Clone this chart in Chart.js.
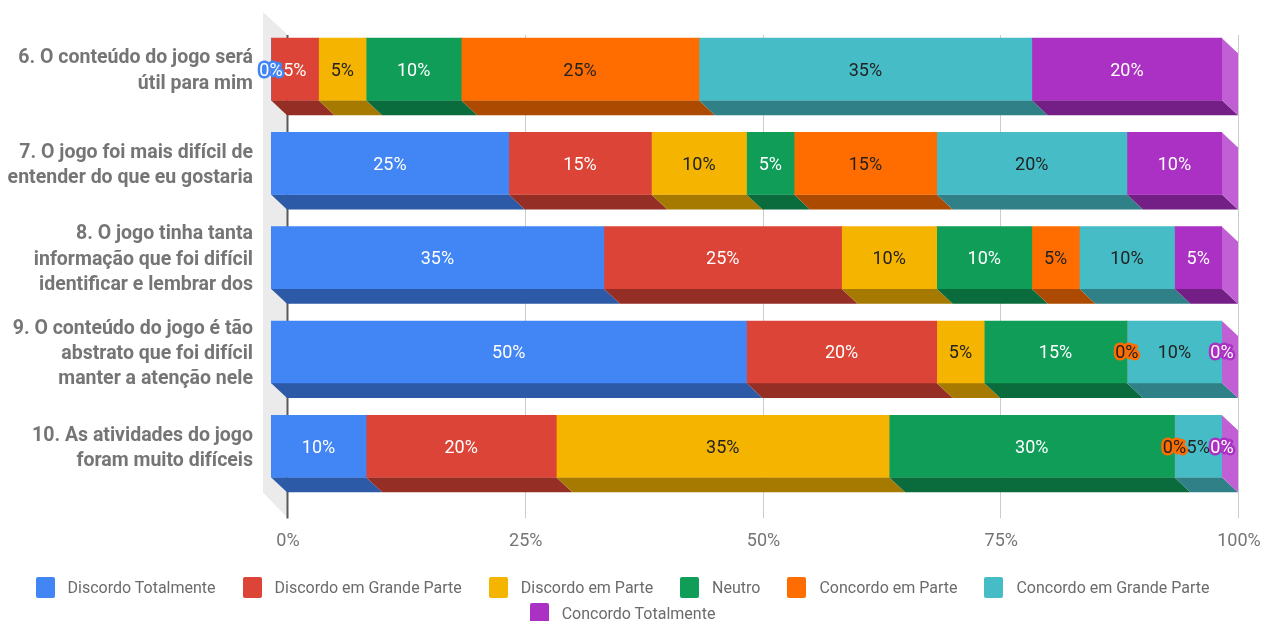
<!DOCTYPE html>
<html lang="pt">
<head>
<meta charset="utf-8">
<title>Avaliação do jogo</title>
<script src="https://cdn.jsdelivr.net/npm/chart.js@4.4.1/dist/chart.umd.min.js"></script>
<style>
  body { margin: 0; background: #fff; }
  #wrap { position: relative; width: 1262px; height: 621px; }
  #legend {
    position: absolute; left: 0; top: 577px; width: 1245px;
    display: flex; flex-wrap: wrap; justify-content: center;
    column-gap: 27px; row-gap: 5px;
    font: 16px Roboto, sans-serif; color: #6b6b6b; line-height: 21px;
  }
  #legend .key { display: inline-flex; align-items: center; white-space: nowrap; }
  #legend .key i { display: inline-block; width: 19px; height: 21px; border-radius: 2px; margin-right: 13px; }
</style>
</head>
<body>
<div id="wrap">
  <canvas id="chart" width="1262" height="621"></canvas>
  <div id="legend"></div>
</div>
<script>
// Questions (one bar each)
const questions = [
  ["6. O conteúdo do jogo será", "útil para mim"],
  ["7. O jogo foi mais difícil de", "entender do que eu gostaria"],
  ["8. O jogo tinha tanta", "informação que foi difícil", "identificar e lembrar dos"],
  ["9. O conteúdo do jogo é tão", "abstrato que foi difícil", "manter a atenção nele"],
  ["10. As atividades do jogo", "foram muito difíceis"],
];

// Answer scale
const answers = [
  "Discordo Totalmente",
  "Discordo em Grande Parte",
  "Discordo em Parte",
  "Neutro",
  "Concordo em Parte",
  "Concordo em Grande Parte",
  "Concordo Totalmente",
];

// Share of answers per question (%)
const discordoTotalmente = [0, 25, 35, 50, 10];
const discordoGrandeParte = [5, 15, 25, 20, 20];
const discordoParte = [5, 10, 10, 5, 35];
const neutro = [10, 5, 10, 15, 30];
const concordoParte = [25, 15, 5, 0, 0];
const concordoGrandeParte = [35, 20, 10, 10, 5];
const concordoTotalmente = [20, 10, 5, 0, 0];

const axisTicks = [0, 25, 50, 75, 100];

const series = [discordoTotalmente, discordoGrandeParte, discordoParte, neutro, concordoParte, concordoGrandeParte, concordoTotalmente];
const faceColors = ["#4285f4", "#db4437", "#f4b400", "#0f9d58", "#ff6d01", "#46bdc6", "#ab30c4"];
const shadeColors = ["#2d5aa6", "#952e25", "#a67a00", "#0a6b3c", "#ad4a01", "#308087", "#741f85"];
const labelInk = ["#ffffff", "#ffffff", "#222222", "#ffffff", "#222222", "#222222", "#ffffff"];
const sideColor = "#c060d4";

// extrusion offset for the fake 3d look
const DX = 16;
const DY = 15;

const depthPlugin = {
  id: "depth",
  beforeDatasetsDraw(chart) {
    const { ctx, chartArea: a } = chart;
    const xs = chart.scales.x;
    ctx.save();

    // left wall
    ctx.fillStyle = "#ebebeb";
    ctx.beginPath();
    ctx.moveTo(a.left - 8, a.top - 10);
    ctx.lineTo(a.left + DX + 1, a.top + 13);
    ctx.lineTo(a.left + DX + 1, a.bottom + 25);
    ctx.lineTo(a.left - 8, a.bottom - 1);
    ctx.closePath();
    ctx.fill();

    // back grid lines
    axisTicks.forEach((t) => {
      const x = Math.round(xs.getPixelForValue(t) + DX) + 0.5;
      ctx.strokeStyle = t === 0 ? "#5a5a5a" : "#cccccc";
      ctx.lineWidth = t === 0 ? 2 : 1;
      ctx.beginPath();
      ctx.moveTo(x, a.top + 13);
      ctx.lineTo(x, a.bottom + 25);
      ctx.stroke();
    });

    // bottom faces of every segment
    chart.data.datasets.forEach((ds, i) => {
      chart.getDatasetMeta(i).data.forEach((bar) => {
        const x0 = Math.min(bar.x, bar.base);
        const x1 = Math.max(bar.x, bar.base);
        if (x1 - x0 < 0.5) return;
        const yb = bar.y + bar.height / 2;
        ctx.fillStyle = shadeColors[i];
        ctx.beginPath();
        ctx.moveTo(x0, yb);
        ctx.lineTo(x1, yb);
        ctx.lineTo(x1 + DX, yb + DY);
        ctx.lineTo(x0 + DX, yb + DY);
        ctx.closePath();
        ctx.fill();
      });
    });

    // right side of each stack
    const last = chart.getDatasetMeta(chart.data.datasets.length - 1).data;
    last.forEach((bar) => {
      const yt = bar.y - bar.height / 2;
      const yb = bar.y + bar.height / 2;
      ctx.fillStyle = sideColor;
      ctx.beginPath();
      ctx.moveTo(bar.x, yt);
      ctx.lineTo(bar.x + DX, yt + DY);
      ctx.lineTo(bar.x + DX, yb + DY);
      ctx.lineTo(bar.x, yb);
      ctx.closePath();
      ctx.fill();
    });
    ctx.restore();
  },
};

const valueLabels = {
  id: "valueLabels",
  afterDatasetsDraw(chart) {
    const ctx = chart.ctx;
    ctx.save();
    ctx.font = "18px Roboto";
    ctx.textAlign = "center";
    ctx.textBaseline = "middle";
    chart.data.datasets.forEach((ds, i) => {
      chart.getDatasetMeta(i).data.forEach((bar, j) => {
        const v = ds.data[j];
        const x = (bar.x + bar.base) / 2;
        const y = bar.y + 2;
        const text = v + "%";
        if (v === 0) {
          ctx.lineWidth = 5;
          ctx.lineJoin = "round";
          ctx.strokeStyle = faceColors[i];
          ctx.strokeText(text, x, y);
        }
        ctx.fillStyle = labelInk[i];
        ctx.fillText(text, x, y);
      });
    });
    ctx.restore();
  },
};

new Chart(document.getElementById("chart").getContext("2d"), {
  type: "bar",
  data: {
    labels: questions,
    datasets: answers.map((name, i) => ({
      label: name,
      data: series[i],
      backgroundColor: faceColors[i],
      borderWidth: 0,
      barThickness: 62,
    })),
  },
  options: {
    indexAxis: "y",
    responsive: false,
    animation: false,
    layout: { padding: { top: 22, right: 40, bottom: 47.6, left: 0 } },
    plugins: { legend: { display: false }, tooltip: { enabled: false } },
    scales: {
      x: {
        stacked: true,
        min: 0,
        max: 100,
        grid: { display: false, drawTicks: false },
        border: { display: false },
        ticks: {
          stepSize: 25,
          padding: 37,
          labelOffset: DX + 1,
          color: "#757575",
          font: { family: "Roboto", size: 18 },
          callback: (v) => v + "%",
        },
        // tick labels may overhang; the layout padding already covers them
        afterFit: (s) => { s.height = 80; s.paddingLeft = 0; s.paddingRight = 0; },
      },
      y: {
        stacked: true,
        grid: { display: false, drawTicks: false },
        border: { display: false },
        ticks: {
          padding: 18,
          labelOffset: 2,
          color: "#757575",
          font: { family: "Roboto", size: 19.5, weight: "bold", lineHeight: 1.29 },
        },
        afterFit: (s) => { s.width = 271; s.paddingTop = 0; s.paddingBottom = 0; },
      },
    },
  },
  plugins: [depthPlugin, valueLabels],
});

document.getElementById("legend").innerHTML = answers
  .map((name, i) => `<span class="key"><i style="background:${faceColors[i]}"></i>${name}</span>`)
  .join("");
</script>
</body>
</html>
